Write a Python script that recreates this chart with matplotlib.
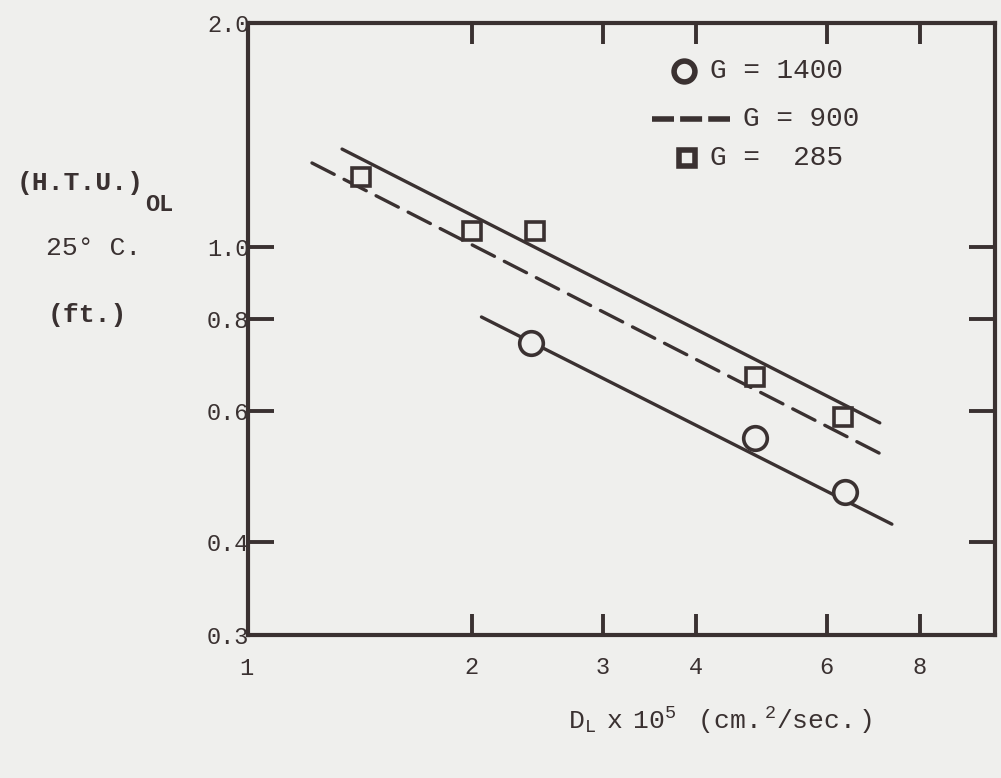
import matplotlib
matplotlib.use("Agg")
import matplotlib.pyplot as plt
import numpy as np

INK = "#3a3131"
PAPER = "#efefed"
FONT = ["Liberation Mono", "DejaVu Sans Mono"]

# measured points, D_L x 1e5 vs (H.T.U.)_OL
x_1400 = [2.40, 4.80, 6.35]
y_1400 = [0.742, 0.553, 0.467]
x_285 = [1.42, 2.00, 2.43, 4.80, 6.31]
y_285 = [1.241, 1.050, 1.050, 0.668, 0.590]

# fitted lines (end points)
fit_285_x = [1.338, 7.07]
fit_285_y = [1.353, 0.579]
fit_900_x = [1.219, 7.25]
fit_900_y = [1.296, 0.520]
fit_1400_x = [2.06, 7.34]
fit_1400_y = [0.804, 0.423]

x_ticks = [2, 3, 4, 6, 8]
x_ticklabels = ["2", "3", "4", "6", "8"]
y_ticks = [0.3, 0.4, 0.6, 0.8, 1.0, 2.0]
y_ticklabels = ["0.3", "0.4", "0.6", "0.8", "1.0", "2.0"]

plt.rcParams["font.family"] = FONT
plt.rcParams["mathtext.fontset"] = "custom"
plt.rcParams["mathtext.rm"] = "Liberation Mono"
plt.rcParams["mathtext.it"] = "Liberation Mono"

fig = plt.figure(figsize=(10.01, 7.78), dpi=100, facecolor=PAPER)
ax = fig.add_axes([248 / 1001, 143 / 778, 747 / 1001, 612 / 778])
ax.set_facecolor(PAPER)
ax.set_xscale("log")
ax.set_yscale("log")
ax.set_xlim(1, 10.1)
ax.set_ylim(0.3, 2.0)

lw = 2.4
ax.plot(fit_285_x, fit_285_y, color=INK, lw=lw, solid_capstyle="round")
ax.plot(fit_900_x, fit_900_y, color=INK, lw=lw, dashes=(7.5, 3.3), dash_capstyle="round")
ax.plot(fit_1400_x, fit_1400_y, color=INK, lw=lw, solid_capstyle="round")
ax.plot(x_1400, y_1400, "o", ms=17, mfc=PAPER, mec=INK, mew=2.6, ls="none")
ax.plot(x_285, y_285, "s", ms=13.5, mfc=PAPER, mec=INK, mew=2.6, ls="none")

for s in ax.spines.values():
    s.set_linewidth(3.0)
    s.set_color(INK)

ax.xaxis.set_minor_locator(matplotlib.ticker.NullLocator())
ax.yaxis.set_minor_locator(matplotlib.ticker.NullLocator())
ax.set_xticks(x_ticks)
ax.set_xticklabels(x_ticklabels)
ax.set_yticks(y_ticks)
ax.set_yticklabels(y_ticklabels)
ax.tick_params(axis="x", which="major", direction="in", length=15, width=2.8,
               top=True, bottom=True, color=INK, labelcolor=INK, labelsize=17, pad=15)
ax.tick_params(axis="y", which="major", direction="in", length=19, width=2.8,
               left=True, right=True, color=INK, labelcolor=INK, labelsize=17, pad=-1)
for lab in ax.get_yticklabels():
    lab.set_va("center_baseline")
# "1" at the left corner of the x axis
ax.text(0.995, -0.036, "1", transform=ax.get_xaxis_transform(), ha="center", va="top",
        fontsize=17, color=INK)

# key
ax.plot([0.584], [0.922], "o", ms=15, mfc=PAPER, mec=INK, mew=4, transform=ax.transAxes)
ax.text(0.618, 0.922, "G = 1400", transform=ax.transAxes, va="center", ha="left",
        fontsize=20, color=INK)
ax.plot([0.541, 0.645], [0.843, 0.843], color=INK, lw=4, dashes=(3.96, 1.1),
        dash_capstyle="butt", transform=ax.transAxes)
ax.text(0.662, 0.843, "G = 900", transform=ax.transAxes, va="center", ha="left",
        fontsize=20, color=INK)
ax.plot([0.588], [0.779], "s", ms=11, mfc=PAPER, mec=INK, mew=4, transform=ax.transAxes)
ax.text(0.618, 0.779, "G =  285", transform=ax.transAxes, va="center", ha="left",
        fontsize=20, color=INK)

# y-axis caption in three lines
fig.text(0.080, 0.765, "(H.T.U.)", ha="center", va="center", fontsize=19, color=INK,
         fontweight="bold")
fig.text(0.145, 0.737, "OL", ha="left", va="center", fontsize=17, color=INK,
         fontweight="bold")
fig.text(0.094, 0.681, "25° C.", ha="center", va="center", fontsize=19, color=INK)
fig.text(0.087, 0.595, "(ft.)", ha="center", va="center", fontsize=19, color=INK,
         fontweight="bold")

fig.text(0.719, 0.074, r"$\mathrm{D_L\ \ x\ \ 10^5\ \ \ \ (cm.^2/sec.)}$", ha="center",
         va="center", fontsize=19, color=INK)

fig.savefig("out.png", dpi=100, facecolor=PAPER)
